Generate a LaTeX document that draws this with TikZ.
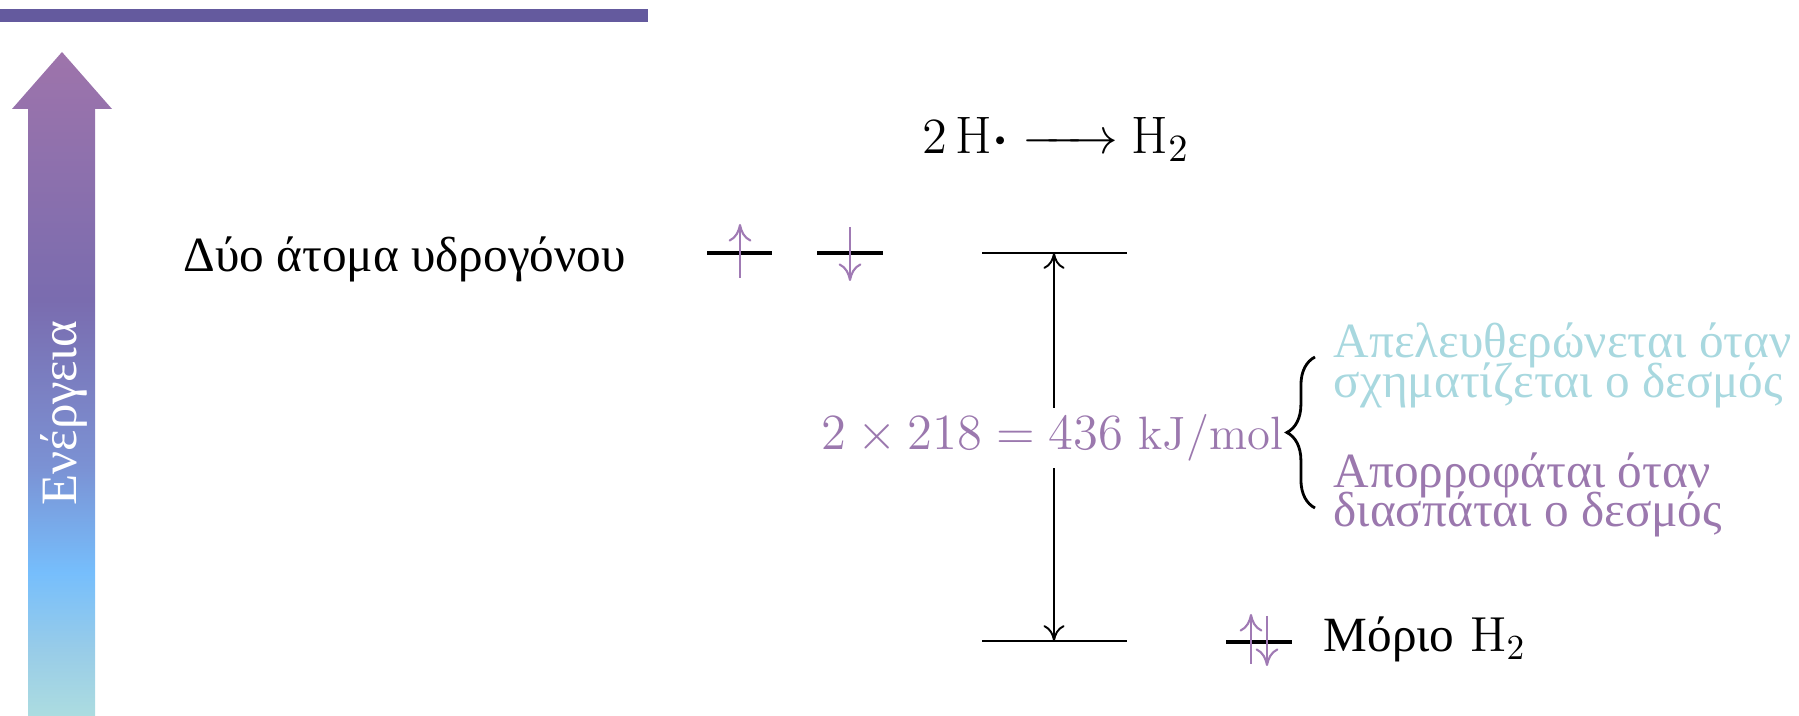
\documentclass[tikz,border=0pt]{standalone}
\usepackage{fontspec}
\usepackage{amsmath}
\newfontfamily\greekfont{Liberation Serif}
\usetikzlibrary{arrows.meta, positioning, decorations.pathreplacing}

\definecolor{barviolet}{HTML}{645A9E}
\definecolor{spinlilac}{HTML}{A07AB4}
\definecolor{textlilac}{HTML}{9B78AE}
\definecolor{paleteal}{HTML}{A8D8DF}
\definecolor{enA}{HTML}{ACDCE0}
\definecolor{enB}{HTML}{98CCE8}
\definecolor{enC}{HTML}{76BEFC}
\definecolor{enD}{HTML}{7B92D4}
\definecolor{enE}{HTML}{7A6CAF}
\definecolor{enF}{HTML}{9E74AB}
\pgfdeclareverticalshading{energyshade}{100bp}{color(0bp)=(enA); color(25bp)=(enA);
  color(30bp)=(enB); color(35.8bp)=(enC); color(43.7bp)=(enD); color(56.3bp)=(enE);
  color(75bp)=(enF); color(100bp)=(enF)}

\begin{document}
\begin{tikzpicture}[x=0.01cm, y=-0.01cm, >={To[length=4.5pt,width=6pt]},
  lvlatom/.style={line width=1pt},
  lvlmol/.style={line width=0.55pt},
  spinarrow/.style={-{To[length=5pt,width=6.5pt]}, spinlilac, line width=0.6pt},
  gaparrow/.style={<->, line width=0.55pt},
  lbl/.style={inner sep=0pt, anchor=base west},
  grk/.style={font=\greekfont\fontsize{#1}{#1}\selectfont}]
  \useasboundingbox (0,0) rectangle (1799,716);

  % header bar
  \fill[barviolet] (0,9) rectangle (648,22);

  % energy axis
  \shade[shading=energyshade] (28,716) -- (28,109) -- (12,109) -- (62,52)
    -- (112,109) -- (95,109) -- (95,716) -- cycle;
  \node[rotate=90, white, grk=14.5, inner sep=0pt, anchor=base] (axis) at (77,413) {Ενέργεια};

  % two hydrogen atoms
  \node[lbl, grk=14] (atoms) at (183,272) {Δύο άτομα υδρογόνου};
  \coordinate (a1l) at (707,253);
  \coordinate (a1r) at (772,253);
  \coordinate (a2l) at (817,253);
  \coordinate (a2r) at (883,253);
  \draw[lvlatom] (a1l) -- (a1r);
  \draw[lvlatom] (a2l) -- (a2r);
  \coordinate (up1a) at (740,278);
  \coordinate (up1b) at (740,224);
  \coordinate (dn2a) at (850,227);
  \coordinate (dn2b) at (850,281);
  \draw[spinarrow] (up1a) -- (up1b);
  \draw[spinarrow] (dn2a) -- (dn2b);

  % reaction
  \node[lbl, font=\fontsize{15}{15}\selectfont] (reaction) at (922,154)
    {$2\,\mathrm{H}{\boldsymbol{\cdot}}\mathrel{\hbox to 27pt{\rightarrowfill}}\mathrm{H}_2$};

  % energy gap
  \coordinate (hiL) at (982,253);
  \coordinate (hiR) at (1127,253);
  \coordinate (loL) at (982,641);
  \coordinate (loR) at (1127,641);
  \coordinate (hiM) at (1054,253);
  \coordinate (loM) at (1054,641);
  \draw[lvlmol] (hiL) -- (hiR);
  \draw[lvlmol] (loL) -- (loR);
  \draw[gaparrow] (hiM) -- (loM);
  \node[fill=white, text=textlilac, inner xsep=0pt, inner ysep=2pt,
    font=\fontsize{13.3}{14}\selectfont] (bond) at (1052,438)
    {$2\times218=436$ kJ/mol};

  % brace and notes
  \coordinate (brL) at (1315,508);
  \coordinate (brU) at (1315,357);
  \draw[decorate, decoration={brace, amplitude=8pt}, line width=0.8pt] (brL) -- (brU);
  \node[lbl, paleteal, grk=14] (release) at (1333,358)
    {Απελευθερώνεται όταν};
  \node[lbl, paleteal, grk=14] (release2) at (1333,398)
    {σχηματίζεται ο δεσμός};
  \node[lbl, textlilac, grk=14] (absorb) at (1333,488)
    {Απορροφάται όταν};
  \node[lbl, textlilac, grk=14] (absorb2) at (1333,527)
    {διασπάται ο δεσμός};

  % hydrogen molecule
  \coordinate (mL) at (1226,642);
  \coordinate (mR) at (1292,642);
  \draw[lvlatom] (mL) -- (mR);
  \coordinate (mupa) at (1251,664);
  \coordinate (mupb) at (1251,614);
  \coordinate (mdna) at (1267,616);
  \coordinate (mdnb) at (1267,666);
  \draw[spinarrow] (mupa) -- (mupb);
  \draw[spinarrow] (mdna) -- (mdnb);
  \node[lbl, font=\fontsize{14}{14}\selectfont] (molecule) at (1323,652)
    {{\greekfont Μόριο} H$_2$};
\end{tikzpicture}
\end{document}
